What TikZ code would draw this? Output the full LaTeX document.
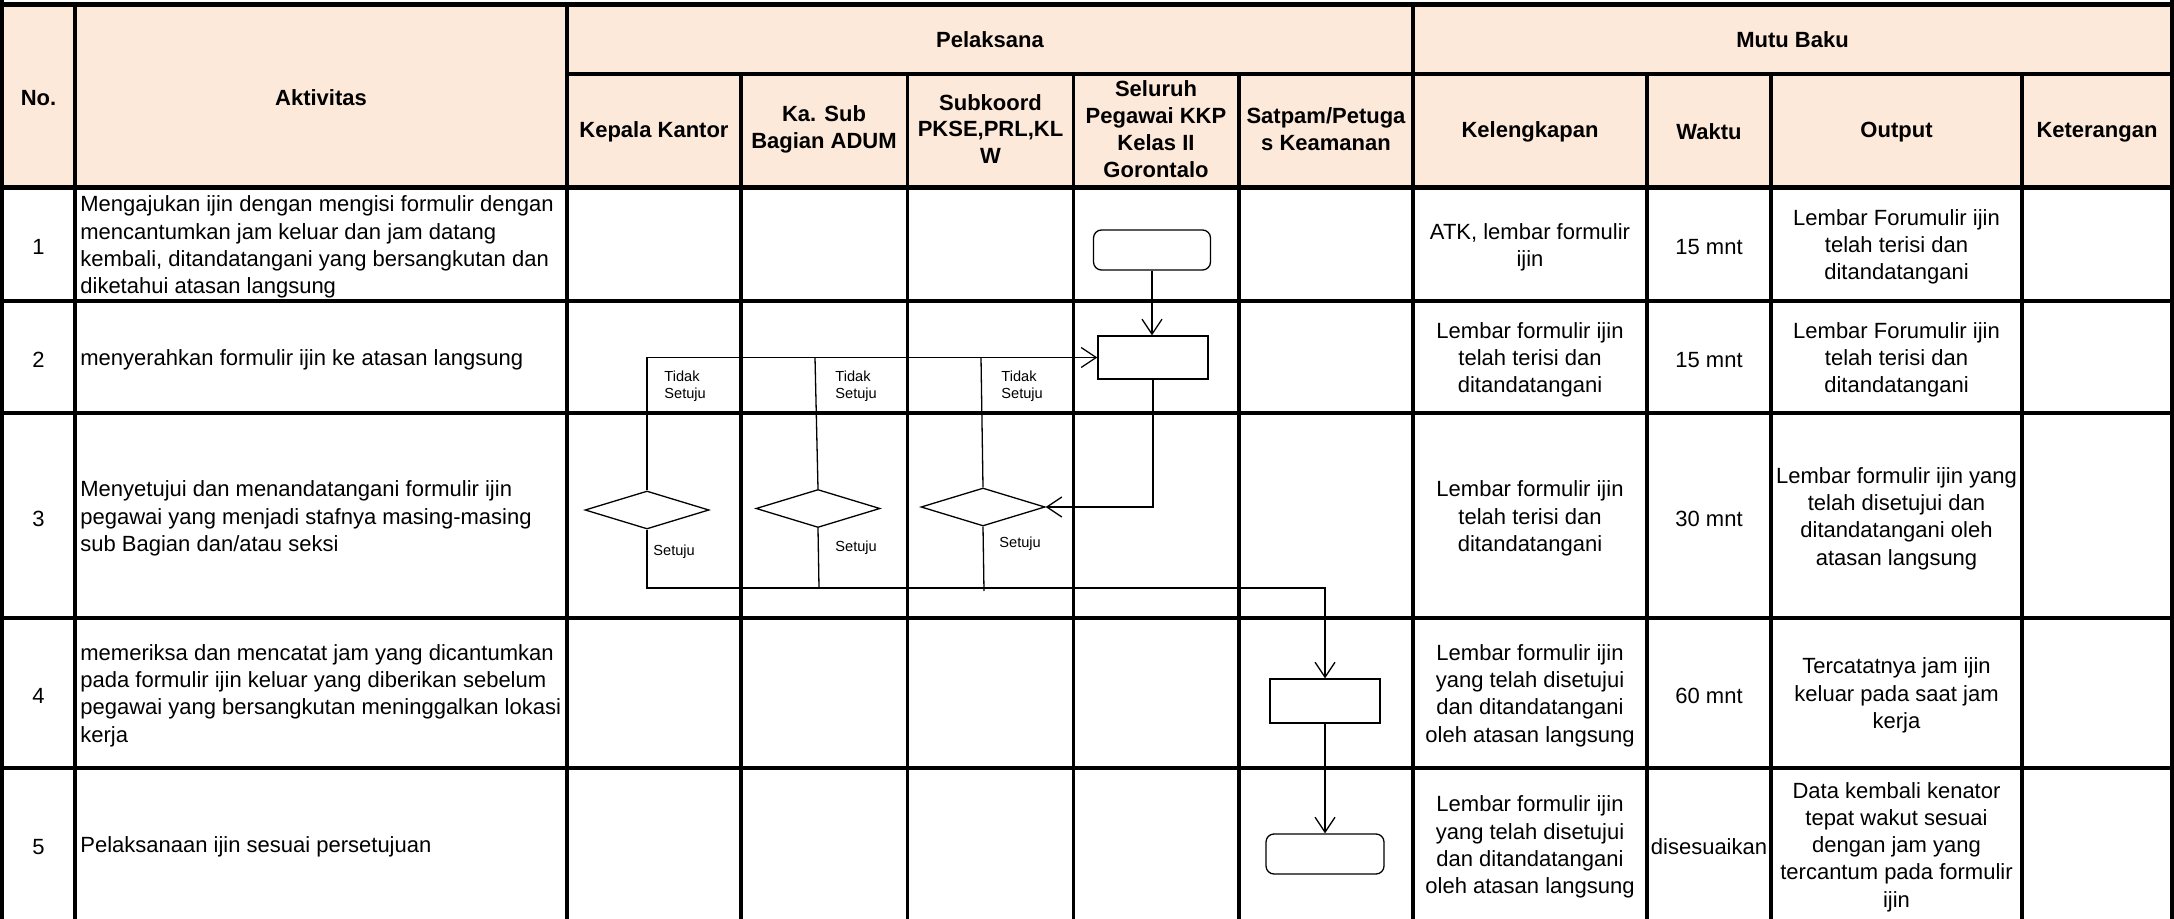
\documentclass[tikz,border=0pt]{standalone}
\usepackage{fontspec}
\setmainfont{Liberation Sans}
\usetikzlibrary{arrows.meta,shapes.geometric}
\definecolor{hdr}{HTML}{FDE9D9}
\begin{document}
\begin{tikzpicture}[x=0.5pt,y=-0.5pt,
  hd/.style={font=\fontsize{11}{13.4}\selectfont\bfseries, align=center, inner sep=0pt, yshift=-1.5pt},
  bd/.style={font=\fontsize{11}{13.65}\selectfont, align=center, inner sep=0pt, yshift=-1.5pt},
  act/.style={font=\fontsize{11}{13.65}\selectfont, align=left, anchor=west, inner sep=0pt, yshift=-1.5pt},
  lbl/.style={font=\fontsize{7.3}{8.4}\selectfont, align=left, anchor=west, inner sep=0pt},
  proc/.style={draw, line width=0.65pt, minimum width=55pt, minimum height=21.5pt, inner sep=0pt},
  term/.style={draw, line width=0.65pt, rounded corners=4pt, minimum width=58.5pt, minimum height=20pt, inner sep=0pt},
  dec/.style={diamond, draw, line width=0.65pt, minimum width=62pt, minimum height=19pt, inner sep=0pt},
  flow/.style={line width=0.65pt},
  arr/.style={flow, -{Straight Barb[length=7.5pt,width=10pt]}},
  vl/.style={line width=1.65pt},
  hl/.style={line width=2pt},
]
\useasboundingbox (0,0) rectangle (2174,919);
% header fill
\fill[hdr] (2,4) rectangle (2172,187.5);
% horizontal grid
\draw[line width=2.25pt] (0,4.3) -- (2174,4.3);
\draw[hl] (567,74) -- (2172,74);
\draw[line width=2.5pt] (0,187.5) -- (2174,187.5);
\foreach \yy in {301,413.5,617.5,767.5} \draw[hl] (0,\yy) -- (2174,\yy);
% vertical grid
\draw[line width=2pt] (2,0) -- (2,919);
\draw[line width=2pt] (2172,0) -- (2172,919);
\foreach \xx in {75,567,1413} \draw[vl] (\xx,2) -- (\xx,919);
\foreach \xx in {741,907.5,1073.5,1239,1647,1771,2022} \draw[vl] (\xx,74) -- (\xx,919);

% header texts
\node[hd] (hno) at (38.5,95) {No.};
\node[hd] (hakt) at (321,95) {Aktivitas};
\node[hd] (hpel) at (990,37) {Pelaksana};
\node[hd] (hmb) at (1792.5,37) {Mutu Baku};
\node[hd] (hkk) at (654,129) {Kepala Kantor};
\node[hd] (hks) at (824,126) {Ka. Sub\\Bagian ADUM};
\node[hd] (hsk) at (990.5,126) {Subkoord\\PKSE,PRL,KL\\W};
\node[hd] (hsp) at (1156,126) {Seluruh\\Pegawai KKP\\Kelas II\\Gorontalo};
\node[hd] (hsa) at (1326,126) {Satpam/Petuga\\s Keamanan};
\node[hd] (hkl) at (1530,129) {Kelengkapan};
\node[hd] (hwk) at (1709,129) {Waktu};
\node[hd] (hop) at (1896.5,129) {Output};
\node[hd] (hkt) at (2097,129) {Keterangan};

% numbers
\node[bd] (n1) at (38.5,244) {1};
\node[bd] (n2) at (38.5,357) {2};
\node[bd] (n3) at (38.5,515.5) {3};
\node[bd] (n4) at (38.5,692.5) {4};
\node[bd] (n5) at (38.5,844) {5};

% activities
\node[act] (a1) at (80,244) {Mengajukan ijin dengan mengisi formulir dengan\\mencantumkan jam keluar dan jam datang\\kembali, ditandatangani yang bersangkutan dan\\diketahui atasan langsung};
\node[act] (a2) at (80,357) {menyerahkan formulir ijin ke atasan langsung};
\node[act] (a3) at (80,515.5) {Menyetujui dan menandatangani formulir ijin\\pegawai yang menjadi stafnya masing-masing\\sub Bagian dan/atau seksi};
\node[act] (a4) at (80,692.5) {memeriksa dan mencatat jam yang dicantumkan\\pada formulir ijin keluar yang diberikan sebelum\\pegawai yang bersangkutan meninggalkan lokasi\\kerja};
\node[act] (a5) at (80,844) {Pelaksanaan ijin sesuai persetujuan};

% mutu baku
\node[bd] (k1) at (1530,244) {ATK, lembar formulir\\ijin};
\node[bd] (w1) at (1709,244) {15 mnt};
\node[bd] (o1) at (1896.5,244) {Lembar Forumulir ijin\\telah terisi dan\\ditandatangani};
\node[bd] (k2) at (1530,357) {Lembar formulir ijin\\telah terisi dan\\ditandatangani};
\node[bd] (w2) at (1709,357) {15 mnt};
\node[bd] (o2) at (1896.5,357) {Lembar Forumulir ijin\\telah terisi dan\\ditandatangani};
\node[bd] (k3) at (1530,515.5) {Lembar formulir ijin\\telah terisi dan\\ditandatangani};
\node[bd] (w3) at (1709,515.5) {30 mnt};
\node[bd] (o3) at (1896.5,515.5) {Lembar formulir ijin yang\\telah disetujui dan\\ditandatangani oleh\\atasan langsung};
\node[bd] (k4) at (1530,692.5) {Lembar formulir ijin\\yang telah disetujui\\dan ditandatangani\\oleh atasan langsung};
\node[bd] (w4) at (1709,692.5) {60 mnt};
\node[bd] (o4) at (1896.5,692.5) {Tercatatnya jam ijin\\keluar pada saat jam\\kerja};
\node[bd] (k5) at (1530,844) {Lembar formulir ijin\\yang telah disetujui\\dan ditandatangani\\oleh atasan langsung};
\node[bd] (w5) at (1709,844) {disesuaikan};
\node[bd] (o5) at (1896.5,844) {Data kembali kenator\\tepat wakut sesuai\\dengan jam yang\\tercantum pada formulir\\ijin};

% flow shapes
\node[term] (rr1) at (1152,250) {};
\node[proc] (rect2) at (1153,357.5) {};
\node[dec] (D1) at (647,510) {};
\node[dec] (D2) at (818,508.5) {};
\node[dec] (D3) at (983,507) {};
\node[proc, minimum height=22pt] (rect4) at (1325,701) {};
\node[term, minimum width=59pt] (rr5) at (1325,854) {};

% connectors
\draw[arr] (rr1.south) -- (rr1.south |- rect2.north);
\draw[arr] (rect2.south) |- (D3.east);
\draw[arr] (D1.north) |- (rect2.west);
\coordinate (t2) at (815,357.5);
\coordinate (t3) at (981,357.5);
\draw[flow] (D2.north) -- (t2);
\draw[flow] (D3.north) -- (t3);
\coordinate (j) at (1325,588);
\draw[arr] (D1.south) |- (j) -- (rect4.north);
\coordinate (b2) at (819,588);
\coordinate (b3) at (984,591);
\draw[flow] (D2.south) -- (b2);
\draw[flow] (D3.south) -- (b3);
\draw[arr] (rect4.south) -- (rr5.north);

% labels
\node[lbl] (ts1) at (664,386) {Tidak\\Setuju};
\node[lbl] (ts2) at (835,386) {Tidak\\Setuju};
\node[lbl] (ts3) at (1001,386) {Tidak\\Setuju};
\node[lbl] (s1) at (653,552) {Setuju};
\node[lbl] (s2) at (835,548) {Setuju};
\node[lbl] (s3) at (999,544) {Setuju};
\end{tikzpicture}
\end{document}
